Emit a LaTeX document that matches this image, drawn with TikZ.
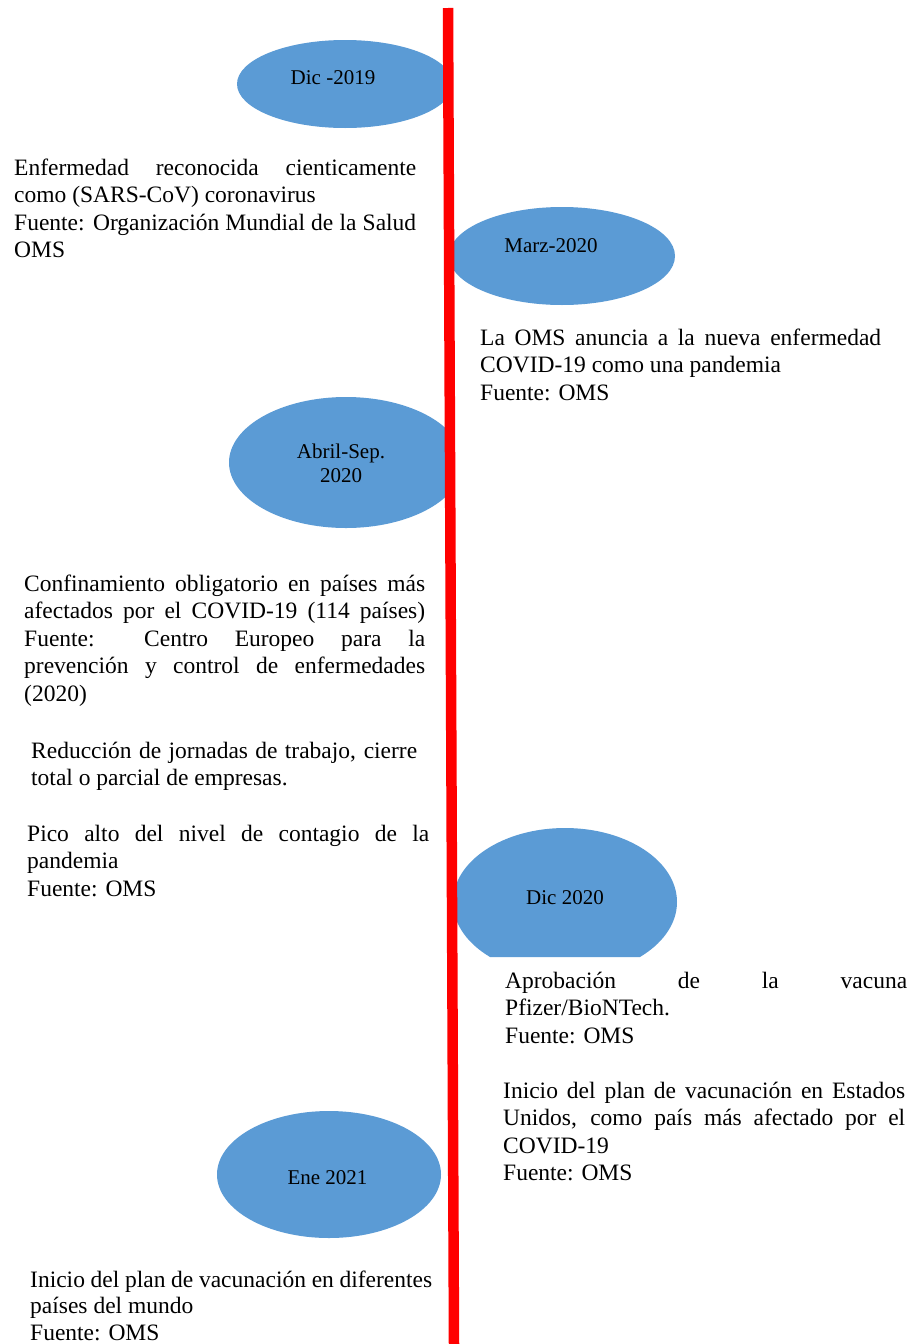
\documentclass[tikz,border=0pt]{standalone}
\usepackage{fontspec}
\setmainfont{Liberation Serif}
\usetikzlibrary{shapes.geometric}
\definecolor{ellblue}{HTML}{5B9BD5}
\newcommand\firstlinestrut{\rule{0pt}{18pt}}
\newcommand\justline[2]{\makebox[#1][s]{#2}}
\begin{document}
\begin{tikzpicture}[x=1pt,y=-1pt,
  bubble/.style={ellipse, fill=ellblue, draw=none, inner sep=0pt},
  datelbl/.style={font=\fontsize{21}{24.2}\selectfont, inner sep=0pt, anchor=base, align=center},
  body/.style={font=\fontsize{23.5}{27.5}\selectfont, inner sep=0pt, anchor=north west, align=left},
  timeline/.style={draw=red, line width=10.5pt}]
\useasboundingbox[fill=white] (0,0) rectangle (913,1344);

% ellipses left of the line
\begin{scope}
  \clip (0,0) -- (448,0) -- (454,1344) -- (0,1344) -- cycle;
  \node[bubble, minimum width=216pt, minimum height=88pt] (e1) at (345,84) {};
  \node[bubble, minimum width=234pt, minimum height=131pt] (e3) at (346,462.5) {};
  \node[bubble, minimum width=224pt, minimum height=127pt] (e5) at (329,1174.5) {};
\end{scope}
% ellipses right of the line
\begin{scope}
  \clip (448,0) -- (913,0) -- (913,1344) -- (454,1344) -- cycle;
  \node[bubble, minimum width=226pt, minimum height=98pt] (e2) at (562,256) {};
\end{scope}
\begin{scope}
  \clip (448,0) -- (913,0) -- (913,957) -- (451.7,957) -- cycle;
  \node[bubble, minimum width=224pt, minimum height=148pt] (e4) at (565,902) {};
\end{scope}

% date labels
\node[datelbl] (l1) at (333,84) {Dic -2019};
\node[datelbl] (l2) at (551,252) {Marz-2020};
\node[datelbl, anchor=north] (l3) at (341,442) {\rule{0pt}{16pt}Abril-Sep.\\2020};
\node[datelbl] (l4) at (565,904) {Dic 2020};
\node[datelbl] (l5) at (327.5,1184) {Ene 2021};

% text blocks
\node[body] (t1) at (14,157) {\firstlinestrut\justline{402pt}{Enfermedad reconocida cienticamente}\\
como (SARS-CoV) coronavirus\\
\justline{402pt}{Fuente: Organización Mundial de la Salud}\\
OMS};
\node[body] (t2) at (480,327) {\firstlinestrut\justline{401pt}{La OMS anuncia a la nueva enfermedad}\\
COVID-19 como una pandemia\\
Fuente: OMS};
\node[body] (t3) at (24,573) {\firstlinestrut\justline{401pt}{Confinamiento obligatorio en países más}\\
\justline{401pt}{afectados por el COVID-19 (114 países)}\\
\justline{401pt}{Fuente: Centro Europeo para la}\\
\justline{401pt}{prevención y control de enfermedades}\\
(2020)};
\node[body] (t4) at (31,740) {\firstlinestrut\justline{386pt}{Reducción de jornadas de trabajo, cierre}\\
total o parcial de empresas.};
\node[body] (t5) at (27,823) {\firstlinestrut\justline{402pt}{Pico alto del nivel de contagio de la}\\
pandemia\\
Fuente: OMS};
\node[body] (t6) at (505,970) {\firstlinestrut\justline{402pt}{Aprobación de la vacuna}\\
Pfizer/BioNTech.\\
Fuente: OMS};
\node[body] (t7) at (503,1080) {\firstlinestrut\justline{402pt}{Inicio del plan de vacunación en Estados}\\
\justline{402pt}{Unidos, como país más afectado por el}\\
COVID-19\\
Fuente: OMS};
\node[body, font=\fontsize{23.5}{26.5}\selectfont] (t8) at (30,1269) {\firstlinestrut\justline{402pt}{Inicio del plan de vacunación en diferentes}\\
países del mundo\\
Fuente: OMS};

% timeline
\coordinate (top) at (448,8);
\coordinate (bot) at (454,1344);
\draw[timeline] (top) -- (bot);
\end{tikzpicture}
\end{document}
